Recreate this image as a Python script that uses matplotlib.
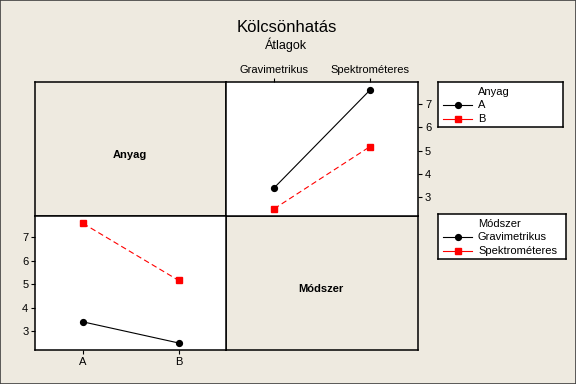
import matplotlib
matplotlib.use("Agg")
import matplotlib.pyplot as plt
from matplotlib.lines import Line2D
from matplotlib.patches import Rectangle

plt.rcParams['font.family'] = ['Liberation Sans', 'DejaVu Sans']

# Data: cell means (rows = Anyag, columns = Módszer)
anyag = ['A', 'B']
modszer = ['Gravimetrikus', 'Spektrométeres']
mean_A = [3.40, 7.60]   # Anyag A at Gravimetrikus, Spektrométeres
mean_B = [2.50, 5.17]   # Anyag B at Gravimetrikus, Spektrométeres
yticks = [3, 4, 5, 6, 7]

title = 'Kölcsönhatás'
subtitle = 'Átlagok'

BG = '#EEEAE0'
W, H = 576, 384
fig = plt.figure(figsize=(W / 100, H / 100), dpi=100, facecolor=BG)

def fx(px):
    return px / W

def fy(py):
    return 1 - py / H

L, M, R = 35.3, 226.3, 418.0
T, C, B = 82.3, 215.7, 350.0

styles = [dict(color='black', marker='o', markersize=4.2, linestyle='-', lw=0.8),
          dict(color='red', marker='s', markersize=4.8, linestyle=(0, (5, 3)), lw=0.8)]

ylim = (2.2, 7.93)
xlim = (-0.5, 1.5)

def make_ax(x0, y0, x1, y1, face):
    ax = fig.add_axes([fx(x0), fy(y1), fx(x1) - fx(x0), fy(y0) - fy(y1)])
    ax.set_facecolor(face)
    for s in ax.spines.values():
        s.set_linewidth(1.1)
        s.set_color('black')
    return ax

# top-left label panel
ax_tl = make_ax(L, T, M, C, BG)
ax_tl.set_xticks([]); ax_tl.set_yticks([])
fig.text(fx(129.5), fy(155), 'Anyag', ha='center', va='center',
         fontsize=8, fontweight='bold')

# bottom-right label panel
ax_br = make_ax(M, C, R, B, BG)
ax_br.set_xticks([]); ax_br.set_yticks([])
fig.text(fx(320.5), fy(289), 'Módszer', ha='center', va='center',
         fontsize=8, fontweight='bold')

# top-right: x = Módszer, lines = Anyag
ax_tr = make_ax(M, T, R, C, 'white')
xs = list(range(len(modszer)))
for vals, st in zip([mean_A, mean_B], styles):
    ax_tr.plot(xs, vals, **st)
ax_tr.set_xlim(*xlim); ax_tr.set_ylim(*ylim)
ax_tr.set_xticks(xs); ax_tr.set_xticklabels(modszer)
ax_tr.set_yticks(yticks)
ax_tr.xaxis.tick_top()
ax_tr.yaxis.tick_right()
ax_tr.tick_params(axis='both', labelsize=8, length=3, width=0.8, direction='out', pad=2)

# bottom-left: x = Anyag, lines = Módszer
ax_bl = make_ax(L, C, M, B, 'white')
xs2 = list(range(len(anyag)))
grav = [mean_A[0], mean_B[0]]
spek = [mean_A[1], mean_B[1]]
for vals, st in zip([grav, spek], styles):
    ax_bl.plot(xs2, vals, **st)
ax_bl.set_xlim(*xlim); ax_bl.set_ylim(*ylim)
ax_bl.set_xticks(xs2); ax_bl.set_xticklabels(anyag)
ax_bl.set_yticks(yticks)
ax_bl.tick_params(axis='both', labelsize=8, length=3, width=0.8, direction='out', pad=2)

# legends
def legend_box(x0, y0, x1, y1, ttl, labels):
    ax = make_ax(x0, y0, x1, y1, 'white')
    ax.set_xticks([]); ax.set_yticks([])
    ax.set_xlim(x0, x1); ax.set_ylim(y1, y0)
    ax.text(478, y0 + 10, ttl, ha='left', va='center', fontsize=8)
    for i, (lab, st) in enumerate(zip(labels, styles)):
        yy = y0 + 23 + i * 14
        ax.add_line(Line2D([443, 472], [yy, yy], color=st['color'], lw=st['lw']))
        ax.plot([457.5], [yy], color=st['color'], marker=st['marker'],
                markersize=st['markersize'], linestyle='none')
        ax.text(478, yy, lab, ha='left', va='center', fontsize=8)

legend_box(438, 82.3, 563, 127.3, 'Anyag', anyag)
legend_box(438, 214, 566, 259, 'Módszer', modszer)

fig.text(fx(286.5), fy(27.5), title, ha='center', va='center', fontsize=12)
fig.text(fx(286.5), fy(44.5), subtitle, ha='center', va='center', fontsize=9)

fig.patches.append(Rectangle((0, 0), 1, 1, transform=fig.transFigure, fill=False,
                             edgecolor='#404040', linewidth=1.2))

fig.savefig('out.png', dpi=100, facecolor=BG)
